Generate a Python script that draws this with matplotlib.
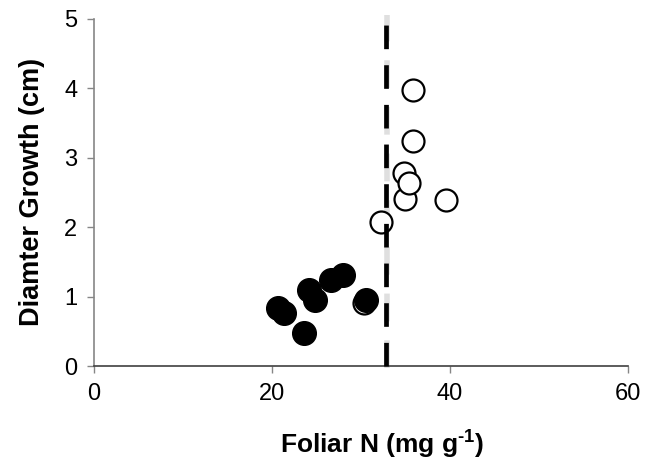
import matplotlib
matplotlib.use("Agg")
import matplotlib.pyplot as plt

plt.rcParams['font.family'] = ['Liberation Sans', 'DejaVu Sans']
plt.rcParams['mathtext.fontset'] = 'custom'
plt.rcParams['mathtext.rm'] = 'Liberation Sans'
plt.rcParams['mathtext.bf'] = 'Liberation Sans:bold'

# Data
filled_x = [20.7, 21.4, 23.6, 24.1, 24.8, 26.6, 28.0, 30.6]
filled_y = [0.83, 0.76, 0.47, 1.10, 0.95, 1.24, 1.31, 0.95]
open_x = [30.3, 32.2, 34.8, 34.9, 35.4, 35.8, 35.8, 39.6]
open_y = [0.90, 2.07, 2.78, 2.41, 2.64, 3.24, 3.97, 2.39]
threshold_x = 32.8
xticks = [0, 20, 40, 60]
yticks = [0, 1, 2, 3, 4, 5]

fig = plt.figure(figsize=(6.52, 4.65), dpi=100)
ax = fig.add_axes([0.1442, 0.2129, 0.819, 0.7473])

ax.scatter(open_x, open_y, s=250, facecolors='white', edgecolors='black', linewidths=1.6, zorder=3)
ax.scatter(filled_x, filled_y, s=290, facecolors='black', edgecolors='black', linewidths=1.0, zorder=4)

ax.plot([threshold_x + 0.15, threshold_x + 0.15], [-0.03, 5.05], color='#d8d8d8', lw=4, ls=(0, (5.0, 3.4)), alpha=0.8, zorder=2, clip_on=False)
ax.plot([threshold_x, threshold_x], [0, 5.08], color='black', lw=3.4, ls=(0, (5.0, 3.4)), zorder=5, clip_on=False)

ax.set_xlim(0, 60)
ax.set_ylim(0, 5)
ax.set_xticks(xticks)
ax.set_yticks(yticks)
ax.tick_params(direction='out', length=5, width=1, labelsize=17, colors='#868686', labelcolor='black', pad=7)

for s in ['top', 'right']:
    ax.spines[s].set_visible(False)
ax.spines['left'].set_color('#868686')
ax.spines['bottom'].set_color('#404040')
ax.spines['left'].set_linewidth(1.2)
ax.spines['bottom'].set_linewidth(1.2)

ax.set_xlabel('Foliar N (mg g$^{\\mathbf{\u20101}}$)', fontsize=19, fontweight='bold', labelpad=14)
ax.xaxis.set_label_coords(0.54, -0.175)
ax.set_ylabel('Diamter Growth (cm)', fontsize=19.5, fontweight='bold', labelpad=14)

fig.savefig('out.png', dpi=100)
